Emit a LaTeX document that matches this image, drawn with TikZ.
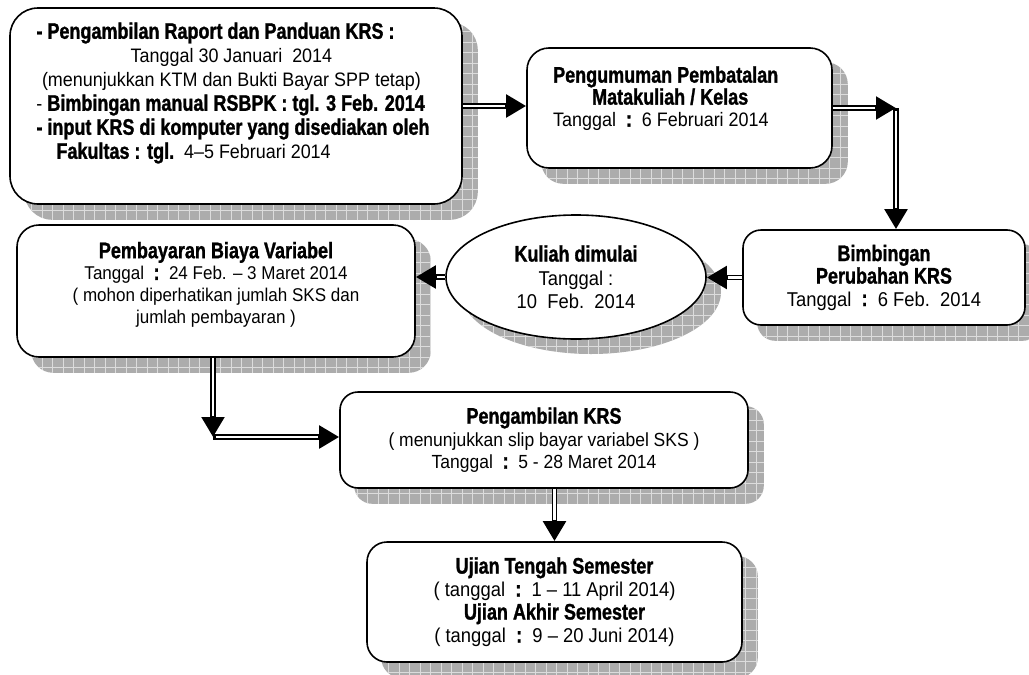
\documentclass[tikz,border=0pt]{standalone}
\usepackage{fontspec}
\setmainfont{Liberation Sans}[FakeStretch=0.92]
\newfontfamily\condsans{Liberation Sans}[FakeStretch=0.8, BoldFeatures={FakeBold=1.2}]
\newcommand{\hb}[1]{{\condsans\bfseries\fontsize{22.5}{22}\selectfont #1}}
\usetikzlibrary{arrows.meta,shapes.geometric,backgrounds}
\definecolor{shadowgray}{RGB}{172,172,172}
\definecolor{gridgray}{RGB}{220,220,220}
\tikzset{
  box/.style={draw=black, line width=1.6pt, fill=white, rounded corners=#1, inner sep=0pt, align=center},
  box/.default=20pt,
  ell/.style={ellipse, draw=black, line width=1.6pt, fill=white, inner sep=0pt, align=center},
  txt/.style={inner sep=0pt, align=center},
  dblout/.style={draw=black, line width=5.6pt, -{Triangle[length=20pt,width=22pt]}},
  dblin/.style={draw=white, line width=2.4pt, shorten >=21pt},
  shadowfill/.style={fill=shadowgray},
  shadowgrid/.style={draw=gridgray, line width=0.8pt},
}
\newcommand{\boxshadow}[2]{%
  \begin{scope}
    \clip[rounded corners=#2] ([shift={(15,15)}]#1.north west) rectangle ([shift={(15,15)}]#1.south east);
    \fill[shadowfill] (0,0) rectangle (1060,700);
    \draw[shadowgrid, step=10.5pt] (0,0) grid (1060,700);
  \end{scope}}
\newcommand{\dbl}[3][]{\draw[dblout] (#2) -- (#3); \draw[dblin,#1] (#2) -- (#3);}
\begin{document}
\begin{tikzpicture}[x=1pt,y=-1pt, font=\fontsize{19.5}{22}\selectfont]
\useasboundingbox (0,0) rectangle (1029,675);

% boxes
\node[box=28pt, minimum width=452pt, minimum height=196pt] (b1) at (236,106) {};
\node[box=22pt, minimum width=305pt, minimum height=120pt] (b2) at (679.5,108) {};
\node[box=18pt, minimum width=282pt, minimum height=95pt, font=\fontsize{20}{22.5}\selectfont] (b3) at (884,277.5)
  {\hb{Bimbingan}\\\hb{Perubahan KRS}\\Tanggal\ \ \hb{:}\ \ 6 Feb.\ \ 2014};
\node[ell, minimum width=260pt, minimum height=124pt, font=\fontsize{20}{23.5}\selectfont] (e) at (576,277)
  {\hb{Kuliah dimulai}\\Tanggal :\\10\ \ Feb.\ \ 2014};
\node[box=22pt, minimum width=398pt, minimum height=132pt] (b4) at (216,291) {};
\node[box=18pt, minimum width=408pt, minimum height=96pt, font=\fontsize{19}{22.5}\selectfont] (b5) at (544,440)
  {\hb{Pengambilan KRS}\\( menunjukkan slip bayar variabel SKS )\\Tanggal\ \ \hb{:}\ \ 5 - 28 Maret 2014};
\node[box=20pt, minimum width=375pt, minimum height=120pt, font=\fontsize{20}{23}\selectfont] (b6) at (554.5,602)
  {\hb{Ujian Tengah Semester}\\( tanggal\ \ \hb{:}\ \ 1 -- 11 April 2014)\\\hb{Ujian Akhir Semester}\\( tanggal\ \ \hb{:}\ \ 9 -- 20 Juni 2014)};

% texts of the boxes whose text is not centred
\node[txt, align=left, font=\fontsize{19.5}{24}\selectfont] (t1) at (233,93)
  {\hb{- Pengambilan Raport dan Panduan KRS :}\\
   \makebox[390pt]{Tanggal 30 Januari\ \ 2014}\\
   \makebox[390pt]{(menunjukkan KTM dan Bukti Bayar SPP tetap)}\\
   - \hb{Bimbingan manual RSBPK : tgl. 3 Feb. 2014}\\
   \hb{- input KRS di komputer yang disediakan oleh}\\
   \hspace*{20pt}\hb{Fakultas : tgl.}\ \ 4--5 Februari 2014};
\node[txt, align=left, anchor=west] (t2) at (553,98.5)
  {\hb{Pengumuman Pembatalan}\\
   \hspace*{39pt}\hb{Matakuliah / Kelas}\\
   Tanggal\ \ \hb{:}\ \ 6 Februari 2014};
\node[txt, font=\fontsize{18.5}{21.7}\selectfont] (t4) at (216,284.5)
  {\hb{Pembayaran Biaya Variabel}\\
   Tanggal\ \ \hb{:}\ \ 24 Feb. -- 3 Maret 2014\\
   ( mohon diperhatikan jumlah SKS dan\\
   jumlah pembayaran )};

% shadows
\begin{scope}[on background layer]
  \fill[white] (0,0) rectangle (1029,675);
  \boxshadow{b1}{28pt}
  \boxshadow{b2}{22pt}
  \boxshadow{b3}{18pt}
  \boxshadow{b4}{22pt}
  \boxshadow{b5}{18pt}
  \boxshadow{b6}{20pt}
  \begin{scope}
    \clip ([shift={(15,15)}]e.center) ellipse [x radius=130, y radius=62];
    \fill[shadowfill] (0,0) rectangle (1060,700);
    \draw[shadowgrid, step=10.5pt] (0,0) grid (1060,700);
  \end{scope}
\end{scope}

% connectors
\coordinate (c1) at (896,108);
\coordinate (c2) at (213,437);
\dbl{b1.east}{b1.east -| b2.west}
\dbl{b2.east}{b2.east -| c1}
\dbl[shorten <=3pt]{c1}{c1 |- b3.north}
\dbl{b3.west}{b3.west -| e.east}
\dbl{e.west}{e.west -| b4.east}
\dbl{c2 |- b4.south}{c2}
\dbl[shorten <=3pt]{c2}{c2 -| b5.west}
\dbl{b6.north |- b5.south}{b6.north}
\end{tikzpicture}
\end{document}
